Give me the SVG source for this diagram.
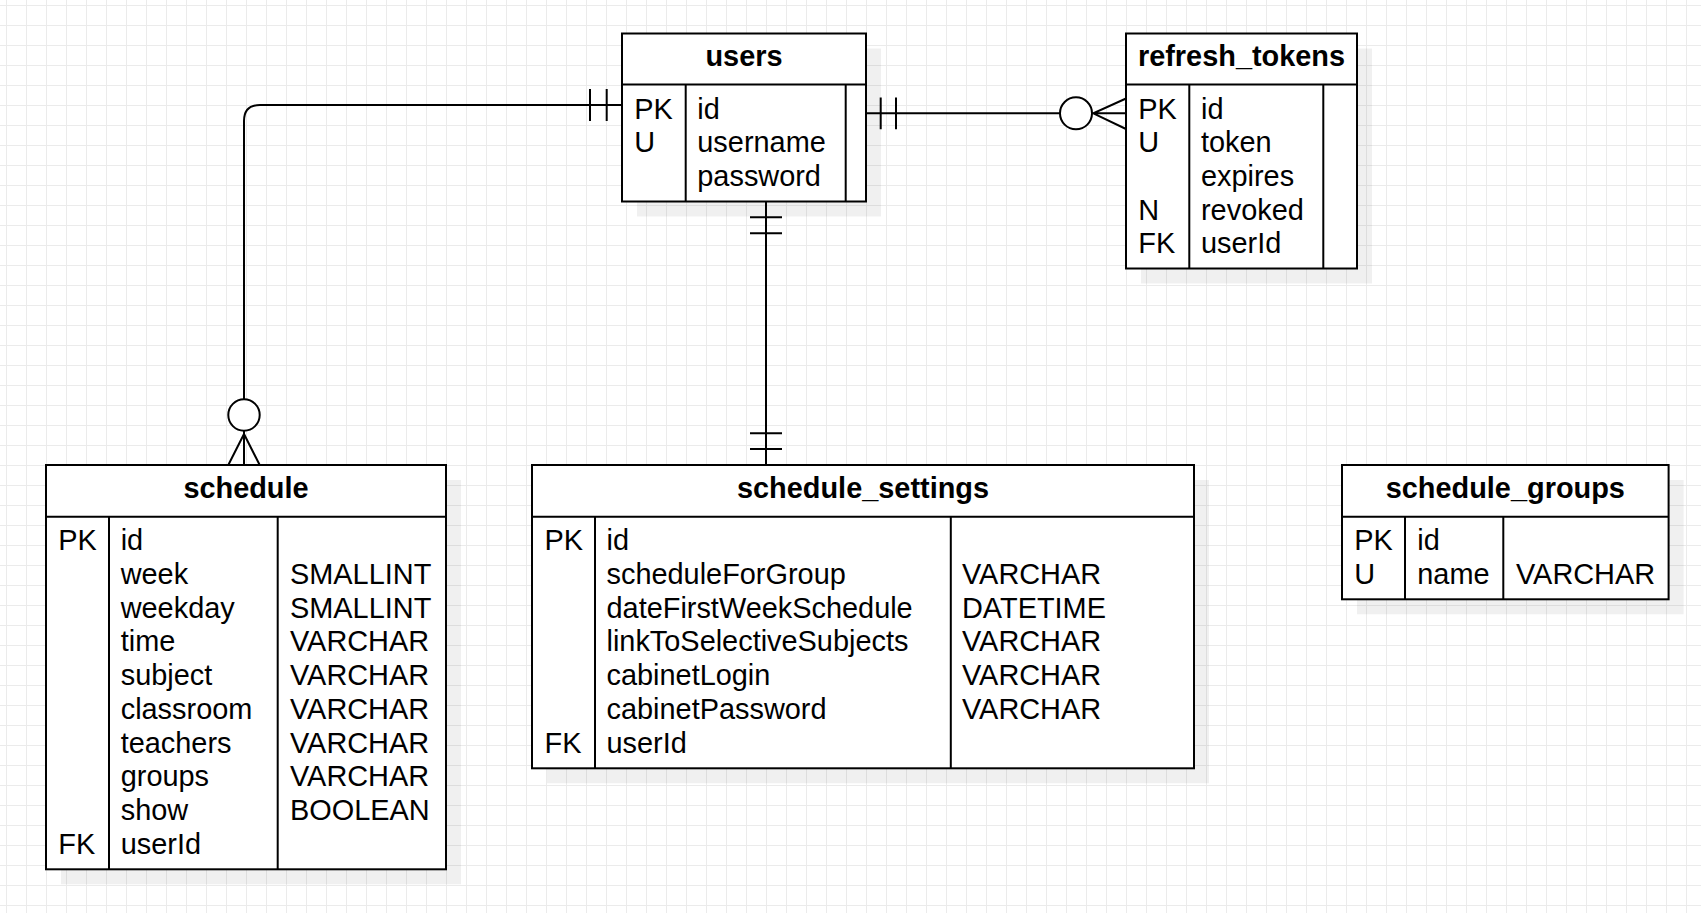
<svg xmlns="http://www.w3.org/2000/svg" width="1701" height="913" viewBox="0 0 1701 913">
<style>
.tbl{fill:#fff;stroke:#000;stroke-width:2}
.sh{fill:#000;fill-opacity:0.06}
.ln{fill:none;stroke:#000;stroke-width:2}
.t{font-family:"Liberation Sans",Arial,sans-serif;font-size:28.9px;fill:#000}
.h{font-family:"Liberation Sans",Arial,sans-serif;font-size:28.9px;font-weight:bold;fill:#000;text-anchor:middle}
.cn{fill:none;stroke:#000;stroke-width:2}
.circ{fill:#fff;stroke:#000;stroke-width:2}
</style>
<defs>
<pattern id="grid" x="6" y="5" width="20" height="20" patternUnits="userSpaceOnUse">
<rect x="0" y="0" width="20" height="1" fill="#ebebeb"/>
<rect x="0" y="0" width="1" height="20" fill="#ebebeb"/>
</pattern>
</defs>
<rect x="0" y="0" width="1701" height="913" fill="#fff"/>
<rect x="0" y="0" width="1701" height="913" fill="url(#grid)"/>

<g id="connectors">
<path class="cn" d="M622 105 H260 Q244 105 244 121 V399.3"/>
<circle class="circ" cx="244" cy="415" r="15.7"/>
<path class="cn" d="M228.3 465 L244 434 L259.7 465 M244 430.7 V465"/>
<path class="cn" d="M590 89 V121 M606.7 89 V121"/>

<path class="cn" d="M766 201.5 V465"/>
<path class="cn" d="M750 217.3 H782 M750 233.3 H782 M750 433.3 H782 M750 449 H782"/>

<path class="cn" d="M866 113.3 H1060"/>
<circle class="circ" cx="1076" cy="113.3" r="16"/>
<path class="cn" d="M1092 113.3 H1126 M1126 98.5 L1093.3 113.3 L1126 129"/>
<path class="cn" d="M880.7 97.5 V129.3 M896 97.5 V129.3"/>
</g>

<g id="users">
<rect class="sh" x="637" y="48.5" width="244" height="168"/>
<rect class="tbl" x="622" y="33.5" width="244" height="168"/>
<path class="ln" d="M622 84.5 H866 M685.7 84.5 V201.5 M845.7 84.5 V201.5"/>
<text class="h" x="744" y="65.5">users</text>
<text class="t" x="634.3" y="118.5">PK</text>
<text class="t" x="634.3" y="152.2">U</text>
<text class="t" x="697.3" y="118.5">id</text>
<text class="t" x="697.3" y="152.2">username</text>
<text class="t" x="697.3" y="185.9">password</text>
</g>

<g id="refresh_tokens">
<rect class="sh" x="1141" y="48.5" width="231" height="235"/>
<rect class="tbl" x="1126" y="33.5" width="231" height="235"/>
<path class="ln" d="M1126 84.5 H1357 M1189.3 84.5 V268.5 M1323.3 84.5 V268.5"/>
<text class="h" x="1241.5" y="65.5">refresh_tokens</text>
<text class="t" x="1138.3" y="118.5">PK</text>
<text class="t" x="1138.3" y="152.2">U</text>
<text class="t" x="1138.3" y="219.6">N</text>
<text class="t" x="1138.3" y="253.3">FK</text>
<text class="t" x="1201" y="118.5">id</text>
<text class="t" x="1201" y="152.2">token</text>
<text class="t" x="1201" y="185.9">expires</text>
<text class="t" x="1201" y="219.6">revoked</text>
<text class="t" x="1201" y="253.3">userId</text>
</g>

<g id="schedule">
<rect class="sh" x="61" y="480" width="400" height="404.3"/>
<rect class="tbl" x="46" y="465" width="400" height="404.3"/>
<path class="ln" d="M46 516.7 H446 M109 516.7 V869.3 M277.7 516.7 V869.3"/>
<text class="h" x="246" y="497.5">schedule</text>
<text class="t" x="58.3" y="550.3">PK</text>
<text class="t" x="58.3" y="853.6">FK</text>
<text class="t" x="120.7" y="550.3">id</text>
<text class="t" x="120.7" y="584">week</text>
<text class="t" x="120.7" y="617.7">weekday</text>
<text class="t" x="120.7" y="651.4">time</text>
<text class="t" x="120.7" y="685.1">subject</text>
<text class="t" x="120.7" y="718.8">classroom</text>
<text class="t" x="120.7" y="752.5">teachers</text>
<text class="t" x="120.7" y="786.2">groups</text>
<text class="t" x="120.7" y="819.9">show</text>
<text class="t" x="120.7" y="853.6">userId</text>
<text class="t" x="290" y="584">SMALLINT</text>
<text class="t" x="290" y="617.7">SMALLINT</text>
<text class="t" x="290" y="651.4">VARCHAR</text>
<text class="t" x="290" y="685.1">VARCHAR</text>
<text class="t" x="290" y="718.8">VARCHAR</text>
<text class="t" x="290" y="752.5">VARCHAR</text>
<text class="t" x="290" y="786.2">VARCHAR</text>
<text class="t" x="290" y="819.9">BOOLEAN</text>
</g>

<g id="schedule_settings">
<rect class="sh" x="547" y="480" width="662" height="303.3"/>
<rect class="tbl" x="532" y="465" width="662" height="303.3"/>
<path class="ln" d="M532 516.7 H1194 M595 516.7 V768.3 M950.8 516.7 V768.3"/>
<text class="h" x="863" y="497.5">schedule_settings</text>
<text class="t" x="544.6" y="550.3">PK</text>
<text class="t" x="544.6" y="752.5">FK</text>
<text class="t" x="606.5" y="550.3">id</text>
<text class="t" x="606.5" y="584">scheduleForGroup</text>
<text class="t" x="606.5" y="617.7">dateFirstWeekSchedule</text>
<text class="t" x="606.5" y="651.4">linkToSelectiveSubjects</text>
<text class="t" x="606.5" y="685.1">cabinetLogin</text>
<text class="t" x="606.5" y="718.8">cabinetPassword</text>
<text class="t" x="606.5" y="752.5">userId</text>
<text class="t" x="962" y="584">VARCHAR</text>
<text class="t" x="962" y="617.7">DATETIME</text>
<text class="t" x="962" y="651.4">VARCHAR</text>
<text class="t" x="962" y="685.1">VARCHAR</text>
<text class="t" x="962" y="718.8">VARCHAR</text>
</g>

<g id="schedule_groups">
<rect class="sh" x="1357" y="480" width="326.6" height="134.3"/>
<rect class="tbl" x="1342" y="465" width="326.6" height="134.3"/>
<path class="ln" d="M1342 516.7 H1668.6 M1405 516.7 V599.3 M1503.3 516.7 V599.3"/>
<text class="h" x="1505.3" y="497.5">schedule_groups</text>
<text class="t" x="1354.3" y="550.3">PK</text>
<text class="t" x="1354.3" y="584">U</text>
<text class="t" x="1417.3" y="550.3">id</text>
<text class="t" x="1417.3" y="584">name</text>
<text class="t" x="1516" y="584">VARCHAR</text>
</g>
</svg>
